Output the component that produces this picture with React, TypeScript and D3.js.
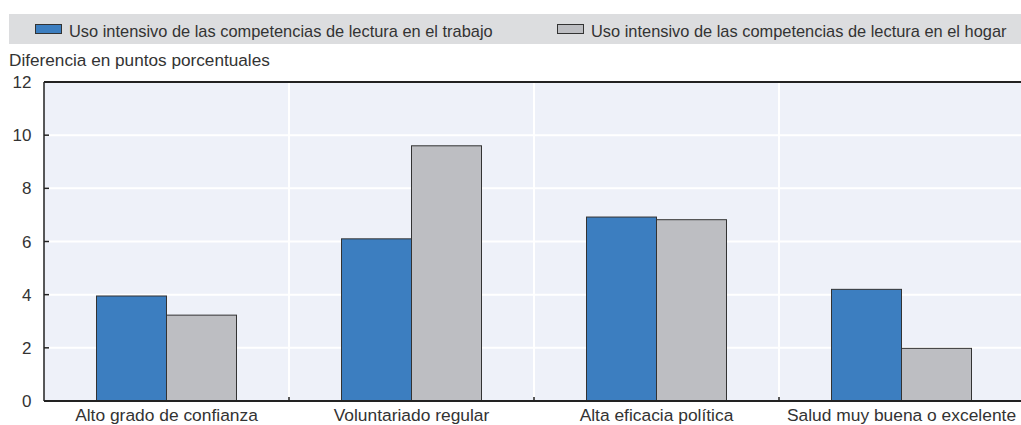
import React from "react";
import * as d3 from "d3";

const categories = [
  "Alto grado de confianza",
  "Voluntariado regular",
  "Alta eficacia política",
  "Salud muy buena o excelente",
];
const seriesNames = [
  "Uso intensivo de las competencias de lectura en el trabajo",
  "Uso intensivo de las competencias de lectura en el hogar",
];
const trabajo = [3.95, 6.1, 6.92, 4.2];
const hogar = [3.23, 9.6, 6.82, 1.98];
const yTicks = [0, 2, 4, 6, 8, 10, 12];
const yTitle = "Diferencia en puntos porcentuales";

const colors = ["#3c7ec0", "#bdbec2"];

export default function App() {
  const W = 1021, H = 425;
  const left = 44, right = 1024, top = 82, bottom = 401;
  const x = d3.scaleBand<string>().domain(categories).range([left, right]);
  const y = d3.scaleLinear().domain([0, 12]).range([bottom, top]);
  const barW = 70;
  const series = [trabajo, hogar];
  const font = "'Liberation Sans', Arial, Helvetica, sans-serif";
  const textColor = "#333";

  return (
    <svg width={W} height={H} style={{ position: "absolute", left: 0, top: 0 }} fontFamily={font}>
      {/* legend */}
      <rect x={9} y={14} width={W - 9} height={30} fill="#dcdddf" />
      {seriesNames.map((s, i) => {
        const lx = i === 0 ? 35 : 557;
        return (
          <g key={s}>
            <rect x={lx + 0.5} y={24.5} width={26} height={9} fill={colors[i]} stroke="#333" strokeWidth={1} />
            <text x={lx + 34} y={36.5} fontSize={16.4} fill={textColor}>{s}</text>
          </g>
        );
      })}
      <text x={9} y={65.5} fontSize={17.2} fill={textColor}>{yTitle}</text>

      {/* plot background */}
      <rect x={left} y={top} width={right - left} height={bottom - top} fill="#eef1f9" />
      {yTicks.slice(1, -1).map((t) => (
        <line key={t} x1={left} x2={right} y1={y(t)} y2={y(t)} stroke="#fff" strokeWidth={2} />
      ))}
      {categories.slice(1).map((c) => (
        <line key={c} x1={x(c)!} x2={x(c)!} y1={top} y2={bottom} stroke="#fff" strokeWidth={2} />
      ))}

      {/* bars */}
      {categories.map((c, ci) =>
        series.map((vals, si) => {
          const cx = x(c)! + x.bandwidth() / 2;
          const bx = cx - barW + si * barW;
          return (
            <rect
              key={c + si}
              x={bx}
              y={y(vals[ci])}
              width={barW}
              height={bottom - y(vals[ci])}
              fill={colors[si]}
              stroke="#333"
              strokeWidth={1}
            />
          );
        })
      )}

      {/* axes */}
      <line x1={left} x2={right} y1={top} y2={top} stroke="#222" strokeWidth={2} />
      <line x1={left} x2={right} y1={bottom} y2={bottom} stroke="#222" strokeWidth={2} />
      <line x1={left} x2={left} y1={top} y2={bottom} stroke="#222" strokeWidth={1.5} />
      {yTicks.map((t) => (
        <g key={t}>
          <line x1={left} x2={left + 5} y1={y(t)} y2={y(t)} stroke="#222" strokeWidth={1.5} />
          <text x={31.5} y={y(t) + 6} fontSize={17} textAnchor="end" fill={textColor}>{t}</text>
        </g>
      ))}
      {categories.slice(1).map((c) => (
        <line key={c} x1={x(c)!} x2={x(c)!} y1={bottom - 4} y2={bottom} stroke="#222" strokeWidth={1.5} />
      ))}
      {categories.map((c) => (
        <text key={c} x={x(c)! + x.bandwidth() / 2} y={421} fontSize={17.4} textAnchor="middle" fill={textColor}>{c}</text>
      ))}
    </svg>
  );
}
